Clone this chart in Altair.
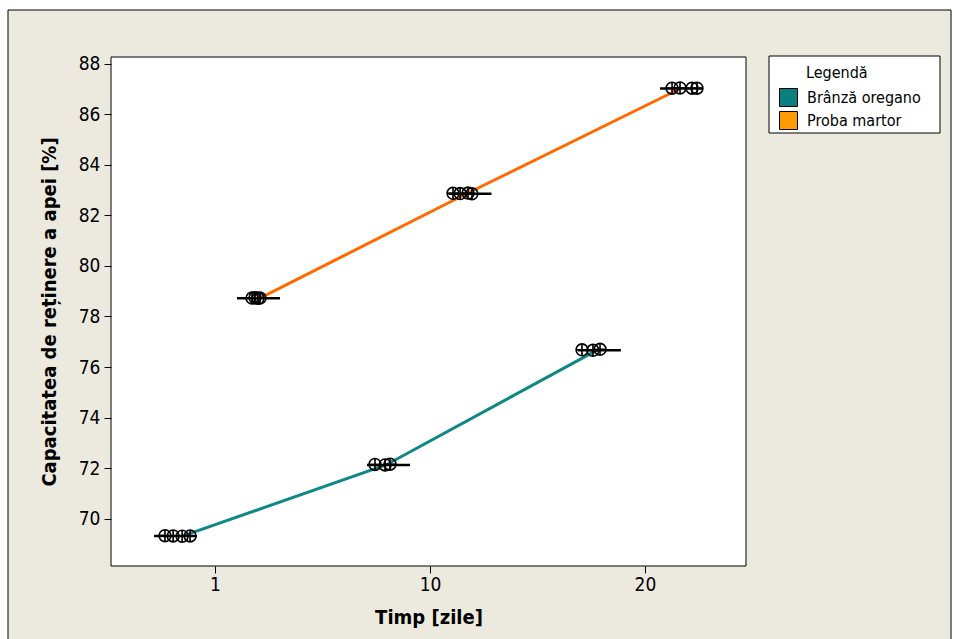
import json
import altair as alt
import pandas as pd

# ---------------- data ----------------
series = ["Brânză oregano", "Proba martor"]
time_labels = ["1", "10", "20"]
time_pos = [0, 1, 2]
legend_title = "Legendă"

# connecting line (group means), position along category axis + value
line_pos_oregano = [-0.149, 0.795, 1.777]
line_val_oregano = [69.31, 72.12, 76.67]
line_pos_martor = [0.209, 1.167, 2.158]
line_val_martor = [78.73, 82.85, 87.00]

# mean markers (horizontal segments)
seg_pos_oregano = [-0.184, 0.807, 1.788]
seg_val_oregano = [69.31, 72.12, 76.66]
seg_pos_martor = [0.202, 1.186, 2.170]
seg_val_martor = [78.72, 82.86, 87.03]

# individual values (jittered)
ind_pos_oregano = [[-0.233, -0.195, -0.153, -0.116], [0.744, 0.791, 0.814], [1.707, 1.758, 1.791]]
ind_val_oregano = [[69.32, 69.31, 69.30, 69.31], [72.14, 72.12, 72.15], [76.68, 76.66, 76.70]]
ind_pos_martor = [[0.172, 0.186, 0.200, 0.209], [1.107, 1.140, 1.177, 1.195], [2.126, 2.163, 2.219, 2.242]]
ind_val_martor = [[78.73, 78.74, 78.72, 78.73], [82.88, 82.87, 82.89, 82.86], [87.04, 87.05, 87.04, 87.04]]

line_colors = ["#0F8787", "#FF6A00"]
legend_colors = ["#0A7F7F", "#FF9A00"]

# ---------------- tables ----------------
line_df = pd.DataFrame(
    [{"serie": series[0], "pos": p, "val": v} for p, v in zip(line_pos_oregano, line_val_oregano)]
    + [{"serie": series[1], "pos": p, "val": v} for p, v in zip(line_pos_martor, line_val_martor)]
)
HALF = 0.1
seg_df = pd.DataFrame(
    [{"serie": series[0], "pos": p, "val": v} for p, v in zip(seg_pos_oregano, seg_val_oregano)]
    + [{"serie": series[1], "pos": p, "val": v} for p, v in zip(seg_pos_martor, seg_val_martor)]
)
seg_df["lo"] = seg_df["pos"] - HALF
seg_df["hi"] = seg_df["pos"] + HALF
ind_rows = []
for name, P, V in [(series[0], ind_pos_oregano, ind_val_oregano), (series[1], ind_pos_martor, ind_val_martor)]:
    for ps, vs in zip(P, V):
        for p, v in zip(ps, vs):
            ind_rows.append({"serie": name, "pos": p, "val": v})
ind_df = pd.DataFrame(ind_rows)

FONT = "DejaVu Sans Condensed, Tahoma, DejaVu Sans"
W, H = 635, 509

x_scale = alt.Scale(domain=[-0.484, 2.47], nice=False, zero=False)
y_scale = alt.Scale(domain=[68.119, 88.277], nice=False, zero=False)
x_axis = alt.Axis(values=time_pos, labelExpr=f"{json.dumps(time_labels)}[datum.value]",
                  title="Timp [zile]", labelPadding=2, titlePadding=13, zindex=1)
y_axis = alt.Axis(values=list(range(70, 89, 2)), title="Capacitatea de reținere a apei [%]",
                  labelPadding=4, titlePadding=19, zindex=1)

one = alt.Data(values=[{}])

beige = alt.Chart(one).mark_rect(fill="#ECE9DF", stroke="black", strokeWidth=1).encode(
    x=alt.value(-103), x2=alt.value(840), y=alt.value(-47), y2=alt.value(600))

legend_box = alt.Chart(one).mark_rect(fill="white", stroke="black", strokeWidth=1).encode(
    x=alt.value(658), x2=alt.value(829), y=alt.value(-1), y2=alt.value(76))

legend_head = alt.Chart(one).mark_text(
    text=legend_title, font=FONT, fontSize=16, color="black", align="left", baseline="alphabetic"
).encode(x=alt.value(695), y=alt.value(21))

dummy = alt.Chart(line_df).mark_square(filled=True, size=60, stroke="black", strokeWidth=1).encode(
    x=alt.X("pos:Q", scale=x_scale, axis=x_axis),
    y=alt.Y("val:Q", scale=y_scale, axis=y_axis),
    fill=alt.Fill("serie:N", scale=alt.Scale(domain=series, range=legend_colors),
                  legend=alt.Legend(title=None)),
)

white = alt.Chart(one).mark_rect(fill="white", stroke="black", strokeWidth=1).encode(
    x=alt.value(0), x2=alt.value(W), y=alt.value(0), y2=alt.value(H))

lines = alt.Chart(line_df).mark_line(strokeWidth=3).encode(
    x=alt.X("pos:Q", scale=x_scale, axis=x_axis),
    y=alt.Y("val:Q", scale=y_scale, axis=y_axis),
    stroke=alt.Stroke("serie:N", scale=alt.Scale(domain=series, range=line_colors), legend=None),
    detail="serie:N",
)

segs = alt.Chart(seg_df).mark_rule(color="black", strokeWidth=2.5).encode(
    x=alt.X("lo:Q", scale=x_scale, axis=x_axis),
    x2="hi:Q",
    y=alt.Y("val:Q", scale=y_scale, axis=y_axis),
)

circ_shape = "M-1,0A1,1,0,1,1,1,0A1,1,0,1,1,-1,0Z M-1,0L1,0 M0,-1L0,1"
pts = alt.Chart(ind_df).mark_point(shape=circ_shape, size=140, filled=False, color="black",
                                    strokeWidth=1.6, opacity=1).encode(
    x=alt.X("pos:Q", scale=x_scale, axis=x_axis),
    y=alt.Y("val:Q", scale=y_scale, axis=y_axis),
)

chart = alt.layer(beige, dummy, white, legend_box, legend_head, lines, segs, pts).properties(
    width=W, height=H,
    autosize=alt.AutoSizeParams(type="none"),
    padding={"left": 111, "top": 57, "right": 209, "bottom": 73},
    background="white",
).resolve_scale(
    fill="independent", stroke="independent"
).configure_view(
    stroke=None, fill=None
).configure_axis(
    labelFont=FONT, labelFontSize=19, labelColor="black",
    titleFont=FONT, titleFontSize=20, titleFontWeight="bold", titleColor="black",
    tickColor="black", tickSize=7, tickWidth=1, domain=False, grid=False,
).configure_legend(
    orient="none", legendX=668, legendY=31, padding=0,
    symbolType="square", symbolSize=324, symbolStrokeColor="black", symbolStrokeWidth=1,
    symbolOpacity=1,
    labelFont=FONT, labelFontSize=16, labelColor="black", labelOffset=9,
    rowPadding=0,
)

chart.save("out.html", embed_options={"renderer": "svg", "actions": False})
